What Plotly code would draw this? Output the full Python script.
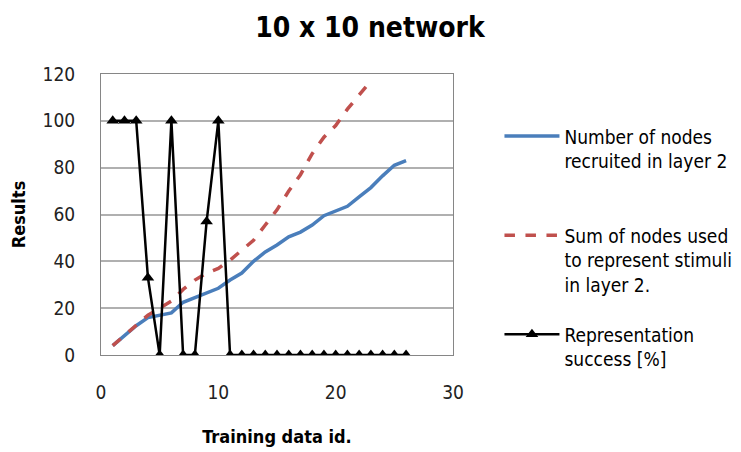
import plotly.graph_objects as go

x_ids = list(range(1, 27))
nodes_recruited = [4, 8.5, 12.5, 16, 17, 18, 22.5, 24.5, 26.5, 28.5, 32, 35, 40, 44, 47,
                   50.5, 52.5, 55.5, 59.5, 61.5, 63.5, 67.5, 71.5, 76.5, 81, 83]
x_sum = list(range(1, 24))
sum_nodes = [4, 8.5, 13, 17, 20, 23, 28, 32, 35, 37, 40.5, 45, 49, 55.5, 62,
             70, 77, 86, 93, 98, 105, 111, 117]
success = [100, 100, 100, 33, 0, 100, 0, 0, 57, 100, 0, 0, 0, 0, 0,
           0, 0, 0, 0, 0, 0, 0, 0, 0, 0, 0]

FONT = "DejaVu Sans Condensed, Liberation Sans Narrow, Liberation Sans, sans-serif"

fig = go.Figure()
fig.add_trace(go.Scatter(
    x=x_ids, y=nodes_recruited, mode="lines",
    name="Number of nodes<br>recruited in layer 2<br> ",
    line=dict(color="#4A7EBB", width=3.5), legendgroup="a"))
fig.add_trace(go.Scatter(
    x=x_sum, y=sum_nodes, mode="lines",
    name="Sum of nodes used<br>to represent stimuli<br>in layer 2.",
    line=dict(color="#C0504D", width=3.5, dash="dash"), legendgroup="b"))
fig.add_trace(go.Scatter(
    x=x_ids, y=success, mode="lines+markers",
    name="Representation<br>success [%]",
    line=dict(color="black", width=2.5),
    marker=dict(symbol="triangle-up", size=11, color="black"), legendgroup="c"))

fig.update_layout(
    width=741, height=452,
    margin=dict(l=93, r=293, t=66, b=105),
    paper_bgcolor="white", plot_bgcolor="white",
    font=dict(family=FONT, size=16, color="black"),
    title=dict(text="<b>10 x 10 network</b>", x=0.4885, xref="container", xanchor="center",
               y=0.958, yref="container", yanchor="middle",
               font=dict(size=28, family=FONT)),
    xaxis=dict(range=[0, 30], dtick=10, showgrid=False, showline=True, automargin=False,
               linecolor="#868686", linewidth=1, mirror=True, zeroline=False,
               ticks="", ticklabelstandoff=20, tickfont=dict(size=19, color="#222222"),
               title=dict(text="<b>Training data id.</b>", standoff=28,
                          font=dict(size=18))),
    yaxis=dict(range=[0, 120], dtick=20, showgrid=True, gridcolor="#B0B0B0", automargin=False,
               gridwidth=1.5, showline=True, linecolor="#868686", linewidth=1,
               mirror=True, zeroline=False, ticks="", ticklabelstandoff=21,
               tickfont=dict(size=19, color="#222222"),
               title=dict(text="<b>Results</b>", standoff=15, font=dict(size=18))),
    legend=dict(x=1.132, y=0.846, xanchor="left", yanchor="top", itemwidth=55,
                valign="top", tracegroupgap=22, font=dict(size=19, family=FONT),
                bgcolor="rgba(0,0,0,0)"),
)

fig.write_html("out.html")
